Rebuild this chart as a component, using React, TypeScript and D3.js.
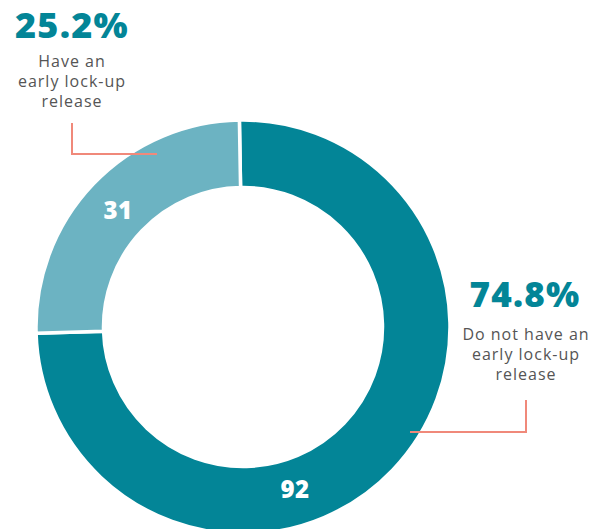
import React from "react";
import * as d3 from "d3";

const categories = ["Do not have an early lock-up release", "Have an early lock-up release"];
const counts = [92, 31];
const percents = ["74.8%", "25.2%"];
const colors = ["#038597", "#6cb3c2"];
const leftLines = ["Have an", "early lock-up", "release"];
const rightLines = ["Do not have an", "early lock-up", "release"];

const W = 605;
const H = 529;

export default function App() {
  const cx = 243;
  const cy = 327;
  const outerR = 207;
  const innerR = 139.5;
  const startOffset = (-1 * Math.PI) / 180;

  const pie = d3
    .pie<number>()
    .sort(null)
    .value((d) => d)
    .startAngle(startOffset)
    .endAngle(startOffset + 2 * Math.PI);
  const arcs = pie(counts);
  const arcGen = d3.arc<d3.PieArcDatum<number>>().innerRadius(innerR).outerRadius(outerR);

  const labelPos = [
    [295, 498],
    [118, 219],
  ];

  const textColor = "#555555";
  const leader = "#f0897a";

  return (
    <svg
      width={W}
      height={H}
      style={{ position: "absolute", left: 0, top: 0, background: "#fff" }}
      fontFamily="'Open Sans', sans-serif"
    >
      <g transform={`translate(${cx},${cy})`}>
        {arcs.map((a, i) => (
          <path key={i} d={arcGen(a) || ""} fill={colors[i]} stroke="#fff" strokeWidth={3.5} />
        ))}
      </g>
      {arcs.map((a, i) => {
        const [px, py] = labelPos[i];
        return (
          <text
            key={i}
            x={px}
            y={py}
            textAnchor="middle"
            fill="#fff"
            fontWeight={800}
            fontSize={24}
            letterSpacing={0.5}
          >
            {counts[i]}
          </text>
        );
      })}

      {/* left annotation */}
      <text x={72} y={38} textAnchor="middle" fill={colors[0]} fontWeight={800} fontSize={36} letterSpacing={1.2}>
        {percents[1]}
      </text>
      {leftLines.map((t, i) => (
        <text key={i} x={72} y={67 + i * 20} textAnchor="middle" fill={textColor} fontSize={16} letterSpacing={1}>
          {t}
        </text>
      ))}
      <polyline
        points={`72,123 72,154 157,154`}
        fill="none"
        stroke={leader}
        strokeWidth={2}
      />

      {/* right annotation */}
      <text x={525} y={307} textAnchor="middle" fill={colors[0]} fontWeight={800} fontSize={35} letterSpacing={1.2}>
        {percents[0]}
      </text>
      {rightLines.map((t, i) => (
        <text key={i} x={526} y={340 + i * 20} textAnchor="middle" fill={textColor} fontSize={16} letterSpacing={1}>
          {t}
        </text>
      ))}
      <polyline
        points={`526,400 526,432 410,432`}
        fill="none"
        stroke={leader}
        strokeWidth={2}
      />
    </svg>
  );
}
